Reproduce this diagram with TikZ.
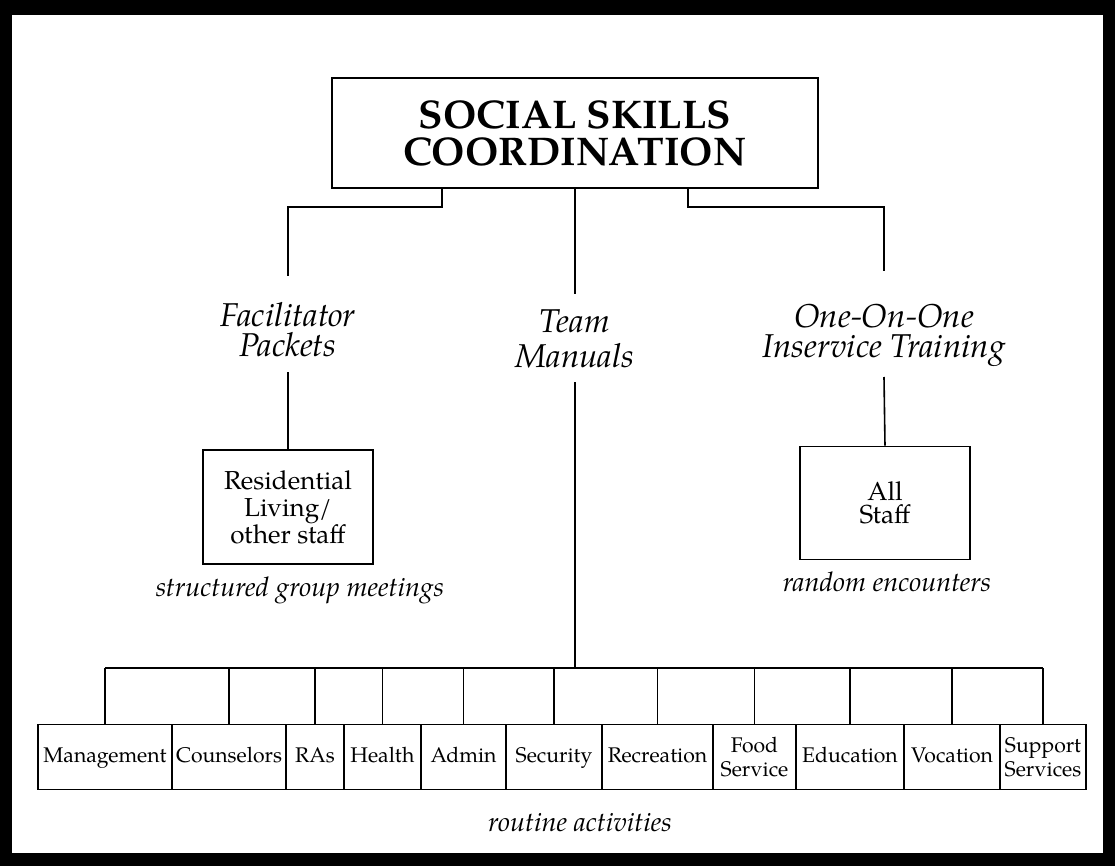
\documentclass[tikz,border=0pt]{standalone}
\usepackage{fontspec}
\setmainfont{TeX Gyre Pagella}

\begin{document}
\begin{tikzpicture}[x=0.5pt, y=-0.5pt, line width=0.8pt,
  unit/.style={draw, minimum height=32.5pt, inner xsep=1pt, inner ysep=0pt,
    align=center, font=\fontsize{10.6}{12}\selectfont},
  oneline/.style={text height=7.5pt, text depth=2.5pt},
  branch/.style={font=\itshape\fontsize{16.5}{15}\selectfont},
  remark/.style={font=\itshape\fontsize{13.5}{15}\selectfont}]
 % black frame round the page
 \fill[black] (0,0) rectangle (1115,866);
 \fill[white] (12,15) rectangle (1103,853);

 \node[draw, line width=1pt, minimum width=243pt, minimum height=55pt, align=center,
   font=\bfseries\fontsize{20}{18.5}\selectfont] (ssc) at (575,133) {SOCIAL SKILLS\\COORDINATION};

 \begin{scope}[every node/.append style={align=center, inner sep=0pt}]
    \node[branch] (fac) at (288,330) {Facilitator\\Packets};
    \node[branch] (team) at (575,339) {Team\\[2.5pt]Manuals};
    \node[branch] (one) at (884,335) {One-On-One\\Inservice Training};

    \node[draw, minimum width=85pt, minimum height=57pt, font=\fontsize{13}{13.5}\selectfont] (res) at (288,507) {Residential\\Living/\\other staff};
    \node[remark] (meet) at (300,590) {structured group meetings};

    \node[draw, minimum width=85pt, minimum height=56.5pt, font=\fontsize{13}{11.5}\selectfont] (all) at (885,503) {All\\Staff};
    \node[remark] (enc) at (887,582) {random encounters};

    \node[unit, oneline, minimum width=67pt] (mgmt) at (105,757) {Management};
    \node[unit, oneline, minimum width=57pt] (couns) at (229,757) {Counselors};
    \node[unit, oneline, minimum width=29pt] (ras) at (315,757) {RAs};
    \node[unit, oneline, minimum width=38.5pt] (health) at (382.5,757) {Health};
    \node[unit, oneline, minimum width=42.5pt] (admin) at (463.5,757) {Admin};
    \node[unit, oneline, minimum width=48pt] (secur) at (554,757) {Security};
    \node[unit, oneline, minimum width=55.5pt] (recr) at (657.5,757) {Recreation};
    \node[unit, minimum width=41.5pt] (food) at (754.5,757) {Food\\Service};
    \node[unit, oneline, minimum width=54pt] (educ) at (850,757) {Education};
    \node[unit, oneline, minimum width=48pt] (voc) at (952,757) {Vocation};
    \node[unit, minimum width=43pt] (supp) at (1043,757) {Support\\Services};

    \node[remark] (rout) at (580,823) {routine activities};
 \end{scope}

 \coordinate (lknee) at (442,207);
 \coordinate (rknee) at (688,207);
 \coordinate (bus) at (575,668);

 % from the coordination box to the three branches
 \draw (ssc.south -| lknee) -- (lknee) -| ([yshift=13pt]fac.north);
 \draw (ssc.south -| team) -- ([yshift=7.5pt]team.north);
 \draw (ssc.south -| rknee) -- (rknee) -| ([yshift=16pt]one.north);

 \draw ([yshift=-7pt]fac.south) -- (res.north);
 \draw ([yshift=-5pt]one.south) -- (all.north);
 \draw ([yshift=-6.5pt]team.south) -- (team |- bus);

 % bus to the units
 \draw (mgmt |- bus) -- (supp |- bus);
 \draw (mgmt |- bus) -- (mgmt.north);
 \draw (couns |- bus) -- (couns.north);
 \draw (ras |- bus) -- (ras.north);
 \draw (health |- bus) -- (health.north);
 \draw (admin |- bus) -- (admin.north);
 \draw (secur |- bus) -- (secur.north);
 \draw (recr |- bus) -- (recr.north);
 \draw (food |- bus) -- (food.north);
 \draw (educ |- bus) -- (educ.north);
 \draw (voc |- bus) -- (voc.north);
 \draw (supp |- bus) -- (supp.north);
\end{tikzpicture}
\end{document}
